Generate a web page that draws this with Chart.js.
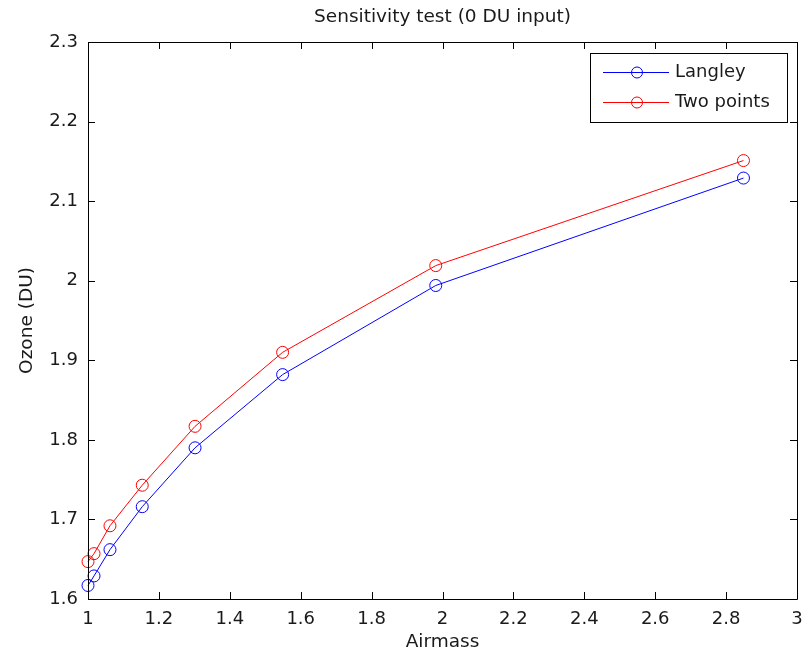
<!DOCTYPE html>
<html><head><meta charset="utf-8">
<script src="https://cdn.jsdelivr.net/npm/chart.js@4/dist/chart.umd.min.js"></script>
<style>html,body{margin:0;padding:0;background:#fff;} canvas{display:block;}</style>
</head><body>
<canvas id="c" width="805" height="656"></canvas>
<script>
// ---- data ----
const airmass   = [1.0, 1.017, 1.062, 1.153, 1.302, 1.549, 1.981, 2.849];
const langley   = [1.617, 1.629, 1.662, 1.716, 1.790, 1.882, 1.994, 2.129];
const twoPoints = [1.647, 1.657, 1.692, 1.743, 1.817, 1.910, 2.019, 2.151];
const seriesNames = ['Langley', 'Two points'];
const xTicks = [1, 1.2, 1.4, 1.6, 1.8, 2, 2.2, 2.4, 2.6, 2.8, 3];
const yTicks = [1.6, 1.7, 1.8, 1.9, 2, 2.1, 2.2, 2.3];
const chartTitle = 'Sensitivity test (0 DU input)';
const xTitle = 'Airmass';
const yTitle = 'Ozone (DU)';

const FONT = "'DejaVu Sans', 'Liberation Sans', sans-serif";
Chart.defaults.font.family = FONT;
Chart.defaults.color = '#1a1a1a';

// center the title over the plot area (as in the reference)
const titleOverAxes = {
  id: 'titleOverAxes',
  afterLayout(chart) {
    const tb = chart.titleBlock, a = chart.chartArea;
    if (tb && a) { tb.left = a.left; tb.right = a.right; tb.width = a.right - a.left; }
  }
};

const frameTicks = {
  id: 'frameTicks',
  afterDatasetsDraw(chart) {
    const {ctx, chartArea: a, scales} = chart;
    const L = 7;
    ctx.save();
    ctx.strokeStyle = '#000';
    ctx.lineWidth = 1;
    ctx.beginPath();
    ctx.rect(Math.round(a.left) + 0.5, Math.round(a.top) + 0.5,
             Math.round(a.right) - Math.round(a.left), Math.round(a.bottom) - Math.round(a.top));
    ctx.stroke();
    ctx.beginPath();
    scales.x.ticks.forEach(t => {
      const px = Math.round(scales.x.getPixelForValue(t.value)) + 0.5;
      ctx.moveTo(px, a.bottom); ctx.lineTo(px, a.bottom - L);
      ctx.moveTo(px, a.top); ctx.lineTo(px, a.top + L);
    });
    scales.y.ticks.forEach(t => {
      const py = Math.round(scales.y.getPixelForValue(t.value)) + 0.5;
      ctx.moveTo(a.left, py); ctx.lineTo(a.left + L, py);
      ctx.moveTo(a.right, py); ctx.lineTo(a.right - L, py);
    });
    ctx.stroke();
    ctx.restore();
  }
};

const boxLegend = {
  id: 'boxLegend',
  afterDraw(chart) {
    const {ctx, chartArea: a} = chart;
    const w = 197, h = 69;
    const x0 = Math.round(a.right) - 10 - w, y0 = Math.round(a.top) + 11;
    ctx.save();
    ctx.fillStyle = '#fff';
    ctx.fillRect(x0, y0, w, h);
    ctx.strokeStyle = '#000';
    ctx.lineWidth = 1;
    ctx.strokeRect(x0 + 0.5, y0 + 0.5, w, h);
    ctx.font = '18px ' + FONT;
    ctx.textBaseline = 'middle';
    ctx.textAlign = 'left';
    chart.data.datasets.forEach((ds, i) => {
      const y = y0 + 19.5 + i * 30;
      ctx.strokeStyle = ds.borderColor;
      ctx.beginPath();
      ctx.moveTo(x0 + 13, y); ctx.lineTo(x0 + 79, y);
      ctx.stroke();
      ctx.beginPath();
      ctx.arc(x0 + 47, y, 5.5, 0, Math.PI * 2);
      ctx.stroke();
      ctx.fillStyle = '#1a1a1a';
      ctx.fillText(ds.label, x0 + 85, y);
    });
    ctx.restore();
  }
};

const mk = (ys, color, label) => ({
  label,
  data: airmass.map((x, i) => ({x, y: ys[i]})),
  borderColor: color,
  backgroundColor: color,
  borderWidth: 1,
  pointStyle: 'circle',
  pointRadius: 6,
  pointHoverRadius: 6,
  pointBorderWidth: 1,
  pointBorderColor: color,
  pointBackgroundColor: 'rgba(0,0,0,0)',
  tension: 0,
  clip: false
});

new Chart(document.getElementById('c'), {
  type: 'line',
  data: {
    datasets: [
      mk(langley, '#0000ff', seriesNames[0]),
      mk(twoPoints, '#ff0000', seriesNames[1])
    ]
  },
  options: {
    responsive: false,
    devicePixelRatio: 1,
    animation: false,
    events: [],
    layout: {padding: {left: 0, right: 8, top: 0, bottom: 0}},
    plugins: {
      legend: {display: false},
      tooltip: {enabled: false},
      title: {
        display: true,
        text: chartTitle,
        color: '#1a1a1a',
        font: {size: 18.5, weight: 'normal', family: FONT},
        padding: {top: 6, bottom: 13.8}
      }
    },
    scales: {
      x: {
        type: 'linear',
        min: 1, max: 3,
        afterBuildTicks: s => { s.ticks = xTicks.map(v => ({value: v})); },
        afterFit: s => { s.height = 57; s.paddingLeft = 0; s.paddingRight = 0; },
        grid: {display: false, drawTicks: false},
        border: {display: false},
        ticks: {
          padding: 10,
          maxRotation: 0,
          autoSkip: false,
          color: '#1a1a1a',
          font: {size: 18, family: FONT},
          callback: v => String(Number(v.toFixed(1)))
        },
        title: {
          display: true, text: xTitle, color: '#1a1a1a',
          font: {size: 18.5, family: FONT},
          padding: {top: 0, bottom: 3}
        }
      },
      y: {
        type: 'linear',
        min: 1.6, max: 2.3,
        afterBuildTicks: s => { s.ticks = yTicks.map(v => ({value: v})); },
        afterFit: s => { s.width = 88; s.paddingTop = 0; s.paddingBottom = 0; },
        grid: {display: false, drawTicks: false},
        border: {display: false},
        ticks: {
          padding: 10,
          autoSkip: false,
          color: '#1a1a1a',
          font: {size: 18, family: FONT},
          callback: v => String(Number(v.toFixed(1)))
        },
        title: {
          display: true, text: yTitle, color: '#1a1a1a',
          font: {size: 18.5, family: FONT},
          padding: {top: 16, bottom: 0}
        }
      }
    }
  },
  plugins: [titleOverAxes, frameTicks, boxLegend]
});
</script>
</body></html>
